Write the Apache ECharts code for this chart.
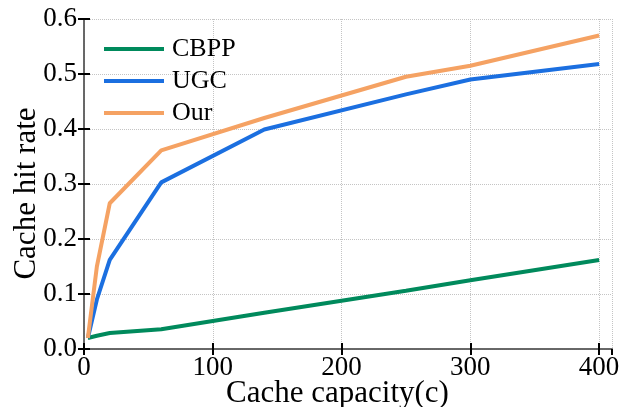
<!DOCTYPE html>
<html style="height:100%;width:100%">
<head>
<meta charset="utf-8">
<script src="https://cdn.jsdelivr.net/npm/echarts@6/dist/echarts.min.js"></script>
</head>
<body style="margin:0;height:100%;width:100%;background:#fff">
<div id="chart-panel" style="width:621px;height:407px"></div>
<script type="text/javascript">
// cache capacity values
var capacity = [3, 10, 20, 60, 140, 250, 300, 400];
var cbpp = [0.020, 0.024, 0.029, 0.036, 0.066, 0.106, 0.125, 0.162];
var ugc = [0.020, 0.090, 0.162, 0.303, 0.399, 0.463, 0.490, 0.518];
var our = [0.020, 0.150, 0.265, 0.361, 0.420, 0.495, 0.515, 0.570];
var seriesNames = ['CBPP', 'UGC', 'Our'];
var colors = ['#008a5c', '#1b6fe0', '#f5a263'];

function pairs(ys) {
	return capacity.map(function (x, i) { return [x, ys[i]]; });
}

var font = 'Liberation Serif';
var myChart = echarts.init(document.getElementById('chart-panel'));

var option = {
	backgroundColor: '#fff',
	animation: false,
	grid: { left: 84, right: 9, top: 19, bottom: 58, outerBoundsMode: 'none', containLabel: false },
	legend: {
		orient: 'vertical',
		left: 99,
		top: 31,
		icon: 'rect',
		itemWidth: 60,
		itemHeight: 4,
		itemGap: 6,
		textStyle: { fontFamily: font, fontSize: 26, color: '#000', padding: [0, 0, 0, 3] },
		data: seriesNames
	},
	xAxis: [{
		type: 'value',
		min: 0,
		max: 410,
		interval: 100,
		name: 'Cache capacity(c)',
		nameLocation: 'middle',
		nameGap: 29,
		nameMoveOverlap: false,
		nameTextStyle: { fontFamily: font, fontSize: 31, color: '#000', padding: [0, 21, 0, 0] },
		axisLine: { lineStyle: { color: '#000', width: 1.5 } },
		axisTick: { inside: true, length: 6, lineStyle: { color: '#000', width: 2 } },
		axisLabel: {
			showMaxLabel: false,
			fontFamily: font, fontSize: 27, color: '#000', margin: 5,
			formatter: function (v) { return v % 100 === 0 ? String(v) : ''; }
		},
		splitLine: { show: true, lineStyle: { color: '#c4c4c4', type: 'dotted', width: 1 } }
	}, {
		type: 'value',
		position: 'top',
		min: 0,
		max: 410,
		interval: 100,
		axisLine: { show: true, lineStyle: { color: '#777', width: 1.5 } },
		axisTick: { inside: true, length: 6, lineStyle: { color: '#000', width: 2 } },
		axisLabel: { show: false },
		splitLine: { show: false }
	}],
	yAxis: [{
		type: 'value',
		min: 0,
		max: 0.6,
		interval: 0.1,
		name: 'Cache hit rate',
		nameLocation: 'middle',
		nameGap: 42,
		nameMoveOverlap: false,
		nameTextStyle: { fontFamily: font, fontSize: 31, color: '#000', padding: [0, 19, 0, 0] },
		axisLine: { show: true, lineStyle: { color: '#000', width: 1.5 } },
		axisTick: { show: true, inside: true, length: 6, lineStyle: { color: '#000', width: 2 } },
		axisLabel: {
			fontFamily: font, fontSize: 27, color: '#000', margin: 7,
			formatter: function (v) { return v.toFixed(1); }
		},
		splitLine: { show: true, lineStyle: { color: '#c4c4c4', type: 'dotted', width: 1 } }
	}, {
		type: 'value',
		position: 'right',
		min: 0,
		max: 0.6,
		interval: 0.1,
		axisLine: { show: true, lineStyle: { color: '#777', width: 1.5 } },
		axisTick: { show: true, inside: true, length: 6, lineStyle: { color: '#000', width: 2 } },
		axisLabel: { show: false },
		splitLine: { show: false }
	}],
	series: [cbpp, ugc, our].map(function (ys, i) {
		return {
			name: seriesNames[i],
			type: 'line',
			data: pairs(ys),
			showSymbol: false,
			symbol: 'none',
			color: colors[i],
			lineStyle: { width: 4, color: colors[i] }
		};
	})
};
myChart.setOption(option);
</script>
</body>
</html>
